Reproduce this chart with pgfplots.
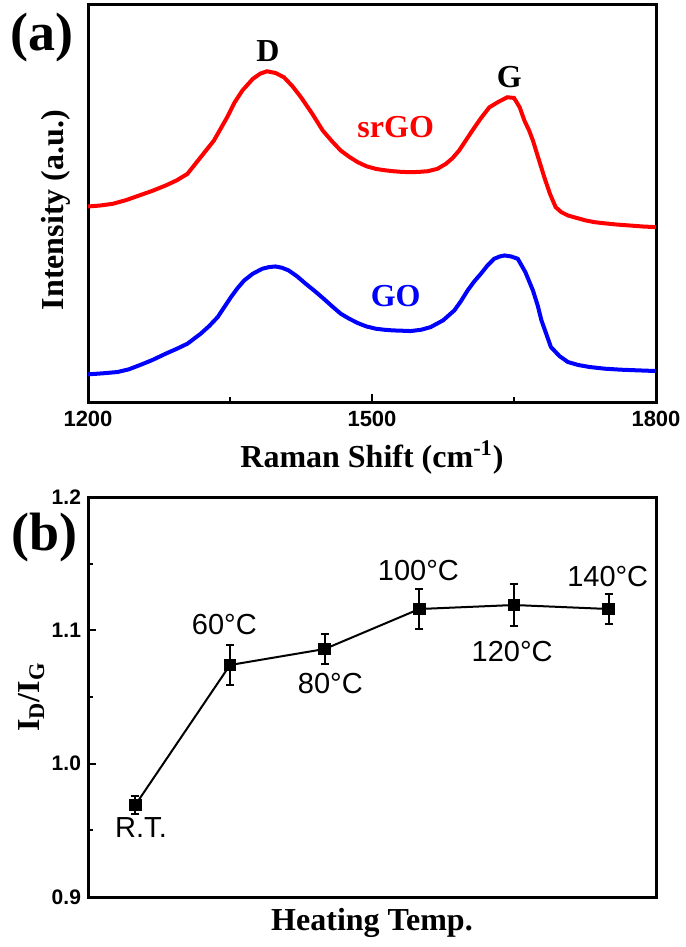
\documentclass[border=0pt]{standalone}
\usepackage{pgfplots}
\pgfplotsset{compat=1.18}
\usepackage{fontspec}
\setmainfont{Liberation Serif}
\setsansfont{Liberation Sans}

\begin{document}
\begin{tikzpicture}
\path[use as bounding box] (0,0) rectangle (342.5pt,-473.5pt);

% ---- (a) Raman spectra ----
\begin{axis}[
    at={(44pt,-201pt)}, anchor=south west,
    width=284pt, height=199pt, scale only axis,
    xmin=1200, xmax=1800, ymin=0, ymax=1195,
    axis line style={line width=1.5pt},
    xtick={1200,1500,1800}, minor xtick={1350,1650},
    ytick=\empty,
    xtick pos=bottom, tick align=inside,
    major tick length=4pt, minor tick length=2.5pt,
    every tick/.style={line width=1pt, black},
    /pgf/number format/assume math mode=true,
    /pgf/number format/1000 sep={},
    ticklabel style={font=\sffamily\bfseries\fontsize{11}{12}\selectfont},
    xticklabel style={yshift=-1pt},
    xlabel={Raman Shift (cm\textsuperscript{-1})},
    ylabel={Intensity (a.u.)},
    label style={font=\bfseries\fontsize{16}{18}\selectfont},
    xlabel style={at={(axis description cs:0.5,-0.14)}, anchor=center},
    ylabel style={at={(axis description cs:-0.056,0.482)}, anchor=center},
    clip=false,
]
\addplot[red, line width=2pt] coordinates {
(1200,587) (1213,590) (1226,595) (1240,606) (1254,620) (1268,634) (1282,650)
(1294,666) (1305,685) (1319,735) (1333,785) (1347,855) (1355,900) (1363,935)
(1374,970) (1382,986) (1389,993) (1398,988) (1407,975) (1416,948) (1425,915)
(1437,865) (1448,815) (1458,782) (1467,755) (1476,736) (1485,720) (1494,708)
(1504,700) (1513,696) (1522,693) (1531,691) (1541,690) (1550,691) (1559,693)
(1569,700) (1578,715) (1585,732) (1592,755) (1599,785) (1606,815) (1615,852)
(1624,885) (1634,902) (1643,915) (1650,913) (1656,885) (1661,845) (1666,815)
(1670,785) (1676,730) (1682,675) (1688,625) (1694,585) (1700,570) (1707,560)
(1717,552) (1726,545) (1735,540) (1744,537) (1758,533) (1772,530) (1786,527)
(1800,525)
};
\addplot[blue, line width=2pt] coordinates {
(1200,83) (1215,86) (1231,90) (1243,98) (1254,110) (1268,126) (1282,145)
(1294,160) (1305,175) (1319,205) (1328,228) (1337,255) (1344,285) (1351,315)
(1358,342) (1365,365) (1374,385) (1384,400) (1391,405) (1398,407) (1405,403)
(1412,395) (1421,377) (1430,355) (1440,332) (1449,310) (1458,287) (1467,265)
(1476,250) (1485,237) (1494,227) (1504,220) (1513,217) (1522,215) (1532,214)
(1541,213) (1552,217) (1562,225) (1575,245) (1587,275) (1594,303) (1601,335)
(1608,362) (1615,385) (1622,410) (1629,430) (1635,437) (1640,440) (1647,437)
(1654,430) (1662,390) (1670,335) (1675,290) (1679,245) (1684,205) (1689,165)
(1698,138) (1707,120) (1718,111) (1730,105) (1746,100) (1763,97) (1781,95)
(1800,93)
};
\node[font=\bfseries\fontsize{16}{18}\selectfont] at (axis cs:1390,1055) {D};
\node[font=\bfseries\fontsize{16}{18}\selectfont] at (axis cs:1645,977) {G};
\node[font=\bfseries\fontsize{16}{18}\selectfont, red] at (axis cs:1525,827) {srGO};
\node[font=\bfseries\fontsize{16}{18}\selectfont, blue] at (axis cs:1525,317) {GO};
\node[font=\bfseries\fontsize{27}{29}\selectfont] at (axis description cs:-0.081,0.917) {(a)};
\end{axis}

% ---- (b) ID/IG ratio ----
\begin{axis}[
    at={(44pt,-448.5pt)}, anchor=south west,
    width=284pt, height=200pt, scale only axis,
    xmin=0.5, xmax=6.5, ymin=0.9, ymax=1.2,
    axis line style={line width=1.5pt},
    xtick=\empty,
    ytick={0.9,1.0,1.1,1.2}, minor ytick={0.95,1.05,1.15},
    ytick pos=left, tick align=inside,
    major tick length=4pt, minor tick length=2.5pt,
    every tick/.style={line width=1pt, black},
    /pgf/number format/assume math mode=true,
    /pgf/number format/.cd, fixed, fixed zerofill, precision=1, /pgfplots/.cd,
    ticklabel style={font=\sffamily\bfseries\fontsize{10.5}{12}\selectfont},
    xlabel={Heating Temp.},
    ylabel={I\textsubscript{D}/I\textsubscript{G}},
    label style={font=\bfseries\fontsize{16}{18}\selectfont},
    xlabel style={at={(axis description cs:0.5,-0.065)}, anchor=center},
    ylabel style={at={(axis description cs:-0.10,0.5)}, anchor=center},
    clip=false,
]
\addplot[black, line width=1pt, mark=square*, mark size=2.6pt,
    error bars/.cd, y dir=both, y explicit,
    error bar style={line width=1pt},
    error mark options={rotate=90, mark size=2pt, line width=1pt}]
coordinates {
(1,0.969) +- (0,0.007)
(2,1.074) +- (0,0.015)
(3,1.086) +- (0,0.011)
(4,1.116) +- (0,0.015)
(5,1.119) +- (0,0.016)
(6,1.116) +- (0,0.011)
};
\begin{scope}[every node/.style={font=\sffamily\fontsize{14.5}{16}\selectfont}]
\node at (axis cs:1.06,0.952) {R.T.};
\node at (axis cs:1.94,1.104) {60\textdegree C};
\node at (axis cs:3.06,1.060) {80\textdegree C};
\node at (axis cs:3.99,1.145) {100\textdegree C};
\node at (axis cs:4.98,1.084) {120\textdegree C};
\node at (axis cs:5.99,1.140) {140\textdegree C};
\end{scope}
\node[font=\bfseries\fontsize{27}{29}\selectfont] at (axis description cs:-0.077,0.9) {(b)};
\end{axis}
\end{tikzpicture}
\end{document}
